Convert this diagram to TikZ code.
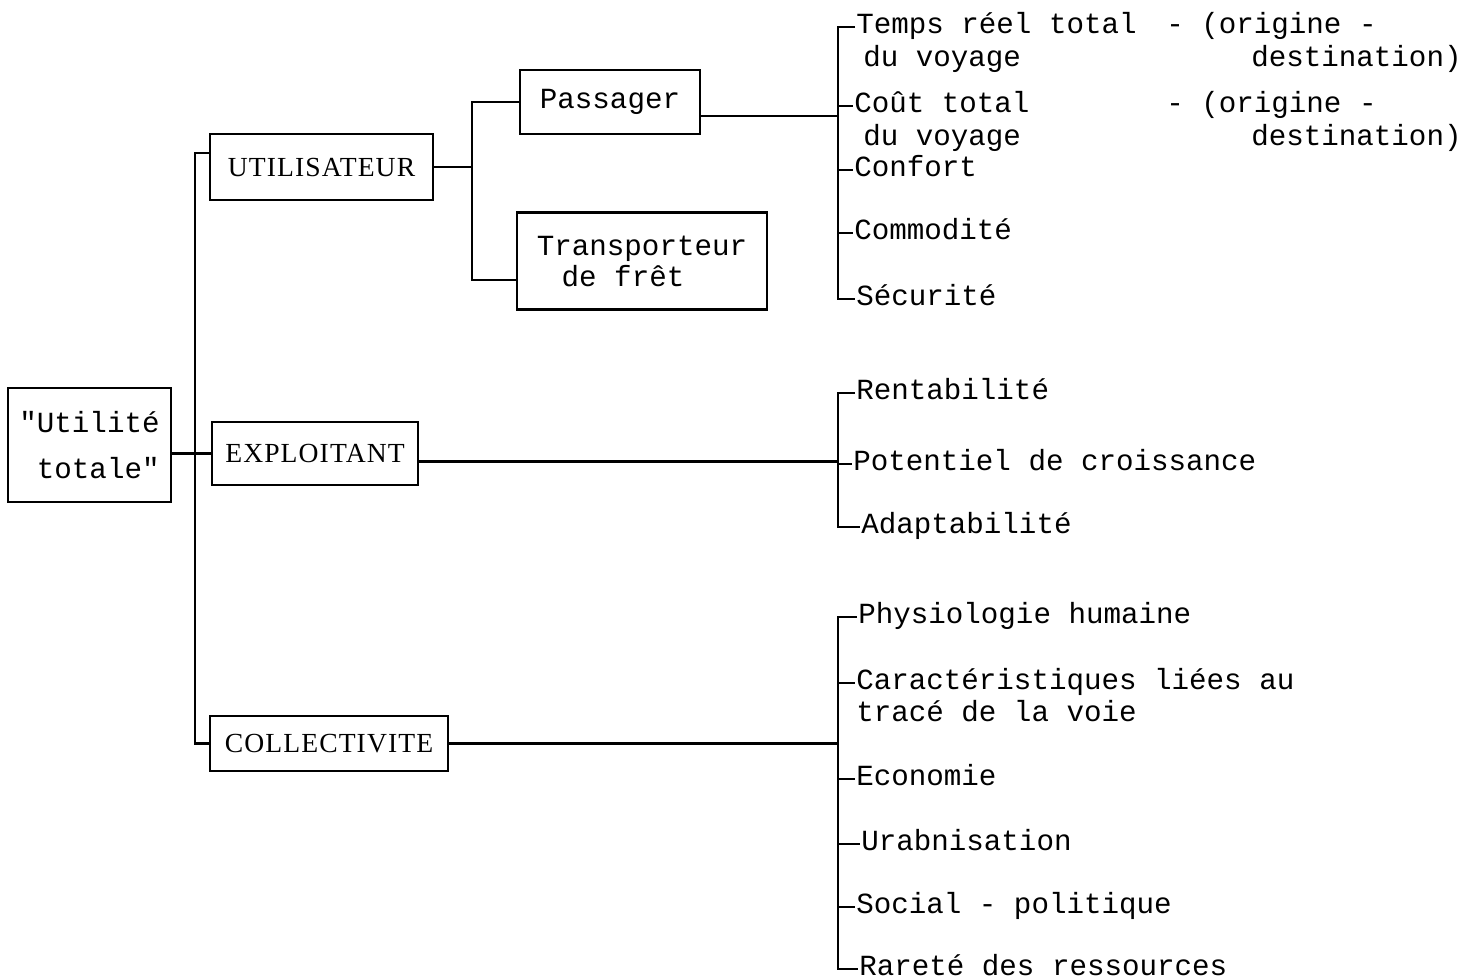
\documentclass[tikz,border=0pt]{standalone}
\usepackage{fontspec}
\newfontfamily\twfont{Liberation Mono}
\newfontfamily\capfont[LetterSpace=4]{Liberation Serif}
\usetikzlibrary{calc}
\begin{document}
\begin{tikzpicture}[x=0.5pt,y=-0.5pt,line width=1.3pt,
  tw/.style={font=\twfont\fontsize{14.6}{23}\selectfont},
  item/.style={tw,anchor=west,inner sep=0pt,text height=0.62em,text depth=0pt,yshift=-1.5pt},
  box/.style={draw,line width=1.3pt,inner sep=0pt},
  twbox/.style={box,tw},
  capbox/.style={box,font=\capfont\fontsize{13.8}{16}\selectfont},
]
\useasboundingbox (0,0) rectangle (1474,980);

% main boxes
\node[twbox,align=right,minimum width=81.5pt,minimum height=57pt] (utot) at (89.5,445) {"Utilité\\totale"};
\node[capbox,minimum width=111.5pt,minimum height=33pt] (util) at (321.5,167) {UTILISATEUR};
\node[capbox,minimum width=103pt,minimum height=31.5pt] (expl) at (315,453.5) {EXPLOITANT};
\node[capbox,minimum width=119pt,minimum height=27.5pt] (coll) at (329,743.5) {COLLECTIVITE};
\node[twbox,text height=0.62em,text depth=0pt,minimum width=90pt,minimum height=32pt] (pass) at (610,102) {Passager};
\node[box,font=\twfont\fontsize{14.6}{15.5}\selectfont,align=left,text depth=0pt,minimum width=125pt,minimum height=48.5pt] (trans) at (642,261) {Transporteur\\\hspace*{0.85em}de frêt};

% user criteria
\node[item] (p1) at (855,24) {Temps réel total};
\node[item] at (862,57) {du voyage};
\node[item] at (1165,24) {- (origine -};
\node[item] at (1250,57) {destination)};
\node[item] (p2) at (853,103) {Coût total};
\node[item] at (862,136) {du voyage};
\node[item] at (1165,103) {- (origine -};
\node[item] at (1250,136) {destination)};
\node[item] (p3) at (853,167) {Confort};
\node[item] (p4) at (853,230) {Commodité};
\node[item] (p5) at (855,296) {Sécurité};

% operator criteria
\node[item] (e1) at (855,390) {Rentabilité};
\node[item] (e2) at (852,461) {Potentiel de croissance};
\node[item] (e3) at (860,524) {Adaptabilité};

% community criteria
\node[item] (c1) at (857,614) {Physiologie humaine};
\node[item] (c2) at (855,680) {Caractéristiques liées au};
\node[item] at (855,712) {tracé de la voie};
\node[item] (c3) at (855,776) {Economie};
\node[item] (c4) at (860,841) {Urabnisation};
\node[item] (c5) at (855,904) {Social - politique};
\node[item] (c6) at (858,966) {Rareté des ressources};

% connector columns
\coordinate (tx) at (195,0);
\coordinate (j1) at (472,0);
\coordinate (bx) at (838,0);

% trunk
\draw (expl.west -| utot.east) -- (expl.west);
\draw ([yshift=7pt]util.west) -| (tx |- coll.west) -- (coll.west);

% user branch
\draw (util.east) -- (util.east -| j1);
\coordinate (tstub) at ([yshift=-9.5pt]trans.west);
\draw (pass.west) -| (j1 |- tstub) -- (tstub);

% brackets
\draw ([yshift=-7pt]pass.east) -- ([yshift=-7pt]pass.east -| bx);
\draw (p1.west) -| (bx |- p5.west) -- (p5.west);
\foreach \n in {p2,p3,p4} \draw (\n.west -| bx) -- (\n.west);

\draw ([yshift=-4pt]expl.east) -- ([yshift=-4pt]expl.east -| bx);
\draw (e1.west) -| (bx |- e3.west) -- (e3.west);
\draw (e2.west -| bx) -- (e2.west);

\draw (coll.east) -- (coll.east -| bx);
\draw (c1.west) -| (bx |- c6.west) -- (c6.west);
\foreach \n in {c2,c3,c4,c5} \draw (\n.west -| bx) -- (\n.west);
\end{tikzpicture}
\end{document}
